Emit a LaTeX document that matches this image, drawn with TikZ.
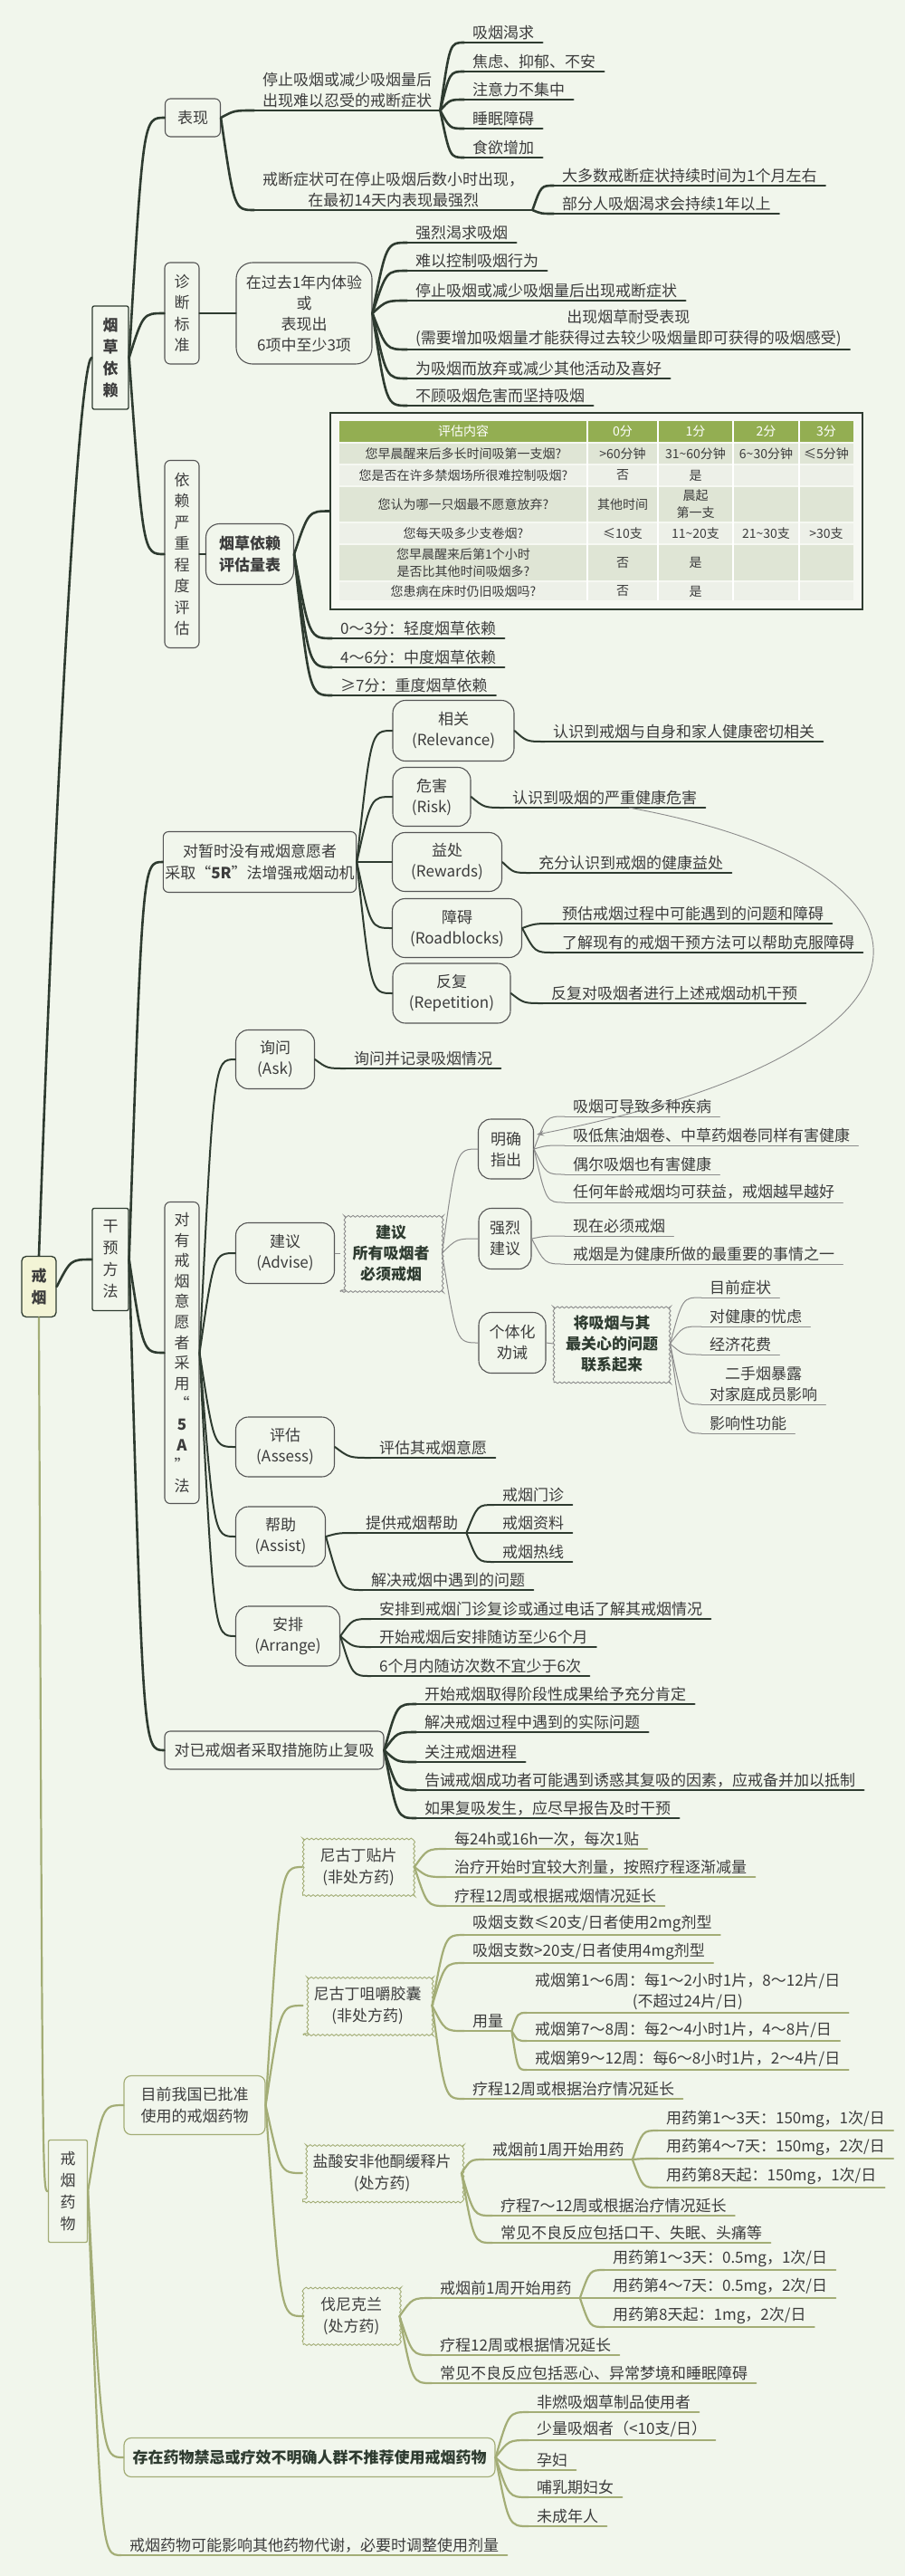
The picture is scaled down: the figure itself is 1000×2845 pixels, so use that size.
\documentclass[tikz,border=0pt]{standalone}
\usepackage{fontspec}
\setmainfont{Noto Sans CJK SC}
\usetikzlibrary{calc,decorations.pathmorphing,arrows.meta}
\definecolor{bg}{HTML}{F1F6EC}
\definecolor{dk}{HTML}{2E3B30}
\definecolor{ol}{HTML}{A3AD76}
\definecolor{gr}{HTML}{8C8C8C}
\definecolor{bx}{HTML}{555555}
\definecolor{tx}{HTML}{3C3C3C}
\definecolor{hd}{HTML}{93AE52}
\definecolor{ra}{HTML}{DFE5D5}
\definecolor{rb}{HTML}{EDF0E8}
\definecolor{tbf}{HTML}{F6F8F2}
\definecolor{rootf}{HTML}{F3F4D6}
\newcommand\fsz{\fontsize{17}{23}\selectfont}
\newcommand\tbz{\fontsize{14}{19}\selectfont}
\newcommand\leafn[4][dkl]{\node[lfnode] (#2) at (#3) {#4};\draw[#1] (#2.south west) -- (#2.south east);}
\newcommand\conn[3][dkl]{\draw[#1] let \p1=(#2), \p2=(#3) in (\p1) .. controls ({\x1+0.4*(\x2-\x1)},\y2) .. (\p2);}
\tikzset{
  dkl/.style={draw=dk, line width=2.6pt, line cap=round},
  mdl/.style={draw=dk, line width=2pt, line cap=round},
  thl/.style={draw=gr, line width=1pt, line cap=round},
  oll/.style={draw=ol, line width=2.2pt, line cap=round},
  box/.style={draw=bx, line width=1.1pt, rounded corners=6pt, fill=bg, align=center, inner sep=2pt, text=tx, font=\fsz},
  vbox/.style={box, font=\fontsize{17}{23.5}\selectfont},
  rbox/.style={box, rounded corners=14pt},
  olbox/.style={box, draw=ol, line width=1.2pt},
  cld/.style={draw=gr, line width=0.9pt, fill=bg, align=center, decorate, decoration={snake, amplitude=0.9pt, segment length=5pt}, font=\fontsize{17}{23}\selectfont\bfseries, text=dk},
  olcl/.style={cld, draw=ol, font=\fontsize{17}{24}\selectfont, text=tx},
  lfnode/.style={anchor=south west, inner xsep=9pt, inner ysep=3pt, align=center, font=\fsz, text=tx},
  tcell/.style={font=\tbz, align=center, inner sep=0pt, text=tx}
}
\begin{document}
\begin{tikzpicture}[x=1pt,y=-1pt]
\fill[bg] (0,0) rectangle (1000,2845);
\useasboundingbox (0,0) rectangle (1000,2845);

% root and level 1
\node[box, draw=dk, line width=1.3pt, fill=rootf, rounded corners=5pt, minimum width=38pt, minimum height=67pt, font=\fontsize{17}{24}\selectfont\bfseries] (root) at (43,1421) {戒\\烟};
\node[box, draw=dk, line width=1.3pt, rounded corners=2pt, minimum width=40pt, minimum height=114pt, font=\fontsize{17}{24}\selectfont\bfseries] (yc) at (122,395) {烟\\草\\依\\赖};
\node[box, draw=dk, line width=1.3pt, rounded corners=2pt, minimum width=40pt, minimum height=113pt, font=\fontsize{17}{24}\selectfont] (gy) at (122,1391) {干\\预\\方\\法};
\node[box, draw=ol, line width=1.3pt, rounded corners=2pt, minimum width=43pt, minimum height=113pt, font=\fontsize{17}{24}\selectfont] (yw) at (75,2420) {戒\\烟\\药\\物};
\draw[dkl] (root.north) .. controls (60,900) and (86,400) .. (yc.west);
\conn{root.east}{gy.west}
\conn[oll]{root.south}{yw.west}

% ===== 烟草依赖 =====
\node[box, minimum width=61pt, minimum height=42pt] (bx) at (213,130) {表现};
\node[vbox, minimum width=38pt, minimum height=112pt] (zd) at (201,346) {诊\\断\\标\\准};
\node[box, rounded corners=18pt, minimum width=150pt, minimum height=112pt] (zdb) at (336,346) {在过去1年内体验\\或\\表现出\\6项中至少3项};
\node[vbox, minimum width=38pt, minimum height=207pt] (yl) at (201,612) {依\\赖\\严\\重\\程\\度\\评\\估};
\node[box, rounded corners=15pt, minimum width=97pt, minimum height=67pt, font=\fontsize{17}{24}\selectfont\bfseries] (lb) at (276,612) {烟草依赖\\评估量表};
\conn{yc.east}{bx.west}
\conn{yc.east}{zd.west}
\conn{yc.east}{yl.west}
\draw[dkl] (zd.east) -- (zdb.west);
\draw[dkl] (yl.east) -- (lb.west);

\leafn{b1}{281,122}{停止吸烟或减少吸烟量后\\出现难以忍受的戒断症状}
\conn{bx.east}{b1.south west}
\leafn{b11}{513,47}{吸烟渴求}
\leafn{b12}{513,79}{焦虑、抑郁、不安}
\leafn{b13}{513,110}{注意力不集中}
\leafn{b14}{513,142}{睡眠障碍}
\leafn{b15}{513,174}{食欲增加}
\foreach \q in {b11,b12,b13,b14,b15} {\conn{b1.south east}{\q.south west}}
\leafn{b2}{281,232}{戒断症状可在停止吸烟后数小时出现，\\在最初14天内表现最强烈}
\conn{bx.east}{b2.south west}
\leafn{b21}{612,205}{大多数戒断症状持续时间为1个月左右}
\leafn{b22}{612,236}{部分人吸烟渴求会持续1年以上}
\conn{b2.south east}{b21.south west}
\conn{b2.south east}{b22.south west}

\leafn{z1}{450,268}{强烈渴求吸烟}
\leafn{z2}{450,299}{难以控制吸烟行为}
\leafn{z3}{450,332}{停止吸烟或减少吸烟量后出现戒断症状}
\leafn{z4}{450,386}{出现烟草耐受表现\\(需要增加吸烟量才能获得过去较少吸烟量即可获得的吸烟感受)}
\leafn{z5}{450,418}{为吸烟而放弃或减少其他活动及喜好}
\leafn{z6}{450,448}{不顾吸烟危害而坚持吸烟}
\foreach \q in {z1,z2,z3,z4,z5,z6} {\conn{zdb.east}{\q.south west}}

% table
\node[draw=dk, line width=1.2pt, fill=tbf, minimum width=588pt, minimum height=217pt, inner sep=0pt] (tb) at (659,564.5) {};
\fill[hd] (375,465) rectangle (943,488);
\foreach \ya/\yb/\cc in {490/512/ra, 514/536/rb, 538/576/ra, 578/600/rb, 602/641/ra, 643/663/rb} {\fill[\cc] (375,\ya) rectangle (943,\yb);}
\foreach \xx in {649,727,810,883} {\draw[white, line width=1.5pt] (\xx,465) -- (\xx,663);}
\node[tcell, text=white] (h0) at (512,476.5) {评估内容};
\node[tcell, text=white] (h1) at (688,476.5) {0分};
\node[tcell, text=white] (h2) at (768.5,476.5) {1分};
\node[tcell, text=white] (h3) at (846.5,476.5) {2分};
\node[tcell, text=white] (h4) at (913,476.5) {3分};
\node[tcell] (r1a) at (512,501) {您早晨醒来后多长时间吸第一支烟?};
\node[tcell] (r1b) at (688,501) {>60分钟};
\node[tcell] (r1c) at (768.5,501) {31\textasciitilde60分钟};
\node[tcell] (r1d) at (846.5,501) {6\textasciitilde30分钟};
\node[tcell] (r1e) at (913,501) {≤5分钟};
\node[tcell] (r2a) at (512,525) {您是否在许多禁烟场所很难控制吸烟?};
\node[tcell] (r2b) at (688,525) {否};
\node[tcell] (r2c) at (768.5,525) {是};
\node[tcell] (r3a) at (512,557) {您认为哪一只烟最不愿意放弃?};
\node[tcell] (r3b) at (688,557) {其他时间};
\node[tcell] (r3c) at (768.5,557) {晨起\\第一支};
\node[tcell] (r4a) at (512,589) {您每天吸多少支卷烟?};
\node[tcell] (r4b) at (688,589) {≤10支};
\node[tcell] (r4c) at (768.5,589) {11\textasciitilde20支};
\node[tcell] (r4d) at (846.5,589) {21\textasciitilde30支};
\node[tcell] (r4e) at (913,589) {>30支};
\node[tcell] (r5a) at (512,621.5) {您早晨醒来后第1个小时\\是否比其他时间吸烟多?};
\node[tcell] (r5b) at (688,621.5) {否};
\node[tcell] (r5c) at (768.5,621.5) {是};
\node[tcell] (r6a) at (512,653) {您患病在床时仍旧吸烟吗?};
\node[tcell] (r6b) at (688,653) {否};
\node[tcell] (r6c) at (768.5,653) {是};
\conn{lb.east}{tb.west}
\leafn{s1}{367,705}{0～3分：轻度烟草依赖}
\leafn{s2}{367,737}{4～6分：中度烟草依赖}
\leafn{s3}{367,768}{≥7分：重度烟草依赖}
\foreach \q in {s1,s2,s3} {\conn{lb.east}{\q.south west}}

% ===== 干预方法 =====
\node[box, minimum width=210pt, minimum height=67pt, font=\fontsize{17}{24}\selectfont] (r5) at (287,952) {对暂时没有戒烟意愿者\\采取“\textbf{5R}”法增强戒烟动机};
\node[vbox, minimum width=38pt, minimum height=333pt, font=\fontsize{17}{22.6}\selectfont] (a5) at (201,1494) {对\\有\\戒\\烟\\意\\愿\\者\\采\\用\\“\\\textbf{5}\\\textbf{A}\\”\\法};
\node[box, minimum width=242pt, minimum height=42pt] (fx) at (303,1933) {对已戒烟者采取措施防止复吸};
\conn{gy.east}{r5.west}
\conn{gy.east}{a5.west}
\conn{gy.east}{fx.west}

\node[rbox, minimum width=134pt, minimum height=67pt] (rel) at (501,807) {相关\\(Relevance)};
\node[rbox, minimum width=86pt, minimum height=65pt] (risk) at (477,880) {危害\\(Risk)};
\node[rbox, minimum width=121pt, minimum height=65pt] (rew) at (494,952) {益处\\(Rewards)};
\node[rbox, minimum width=143pt, minimum height=65pt] (road) at (505,1025) {障碍\\(Roadblocks)};
\node[rbox, minimum width=130pt, minimum height=66pt] (rep) at (499,1097) {反复\\(Repetition)};
\foreach \q in {rel,risk,rew,road,rep} {\conn[mdl]{r5.east}{\q.west}}
\leafn[mdl]{rel1}{602,819}{认识到戒烟与自身和家人健康密切相关}
\conn[mdl]{rel.east}{rel1.south west}
\leafn[mdl]{risk1}{557,892}{认识到吸烟的严重健康危害}
\conn[mdl]{risk.east}{risk1.south west}
\leafn[mdl]{rew1}{586,964}{充分认识到戒烟的健康益处}
\conn[mdl]{rew.east}{rew1.south west}
\leafn[mdl]{road1}{612,1020}{预估戒烟过程中可能遇到的问题和障碍}
\leafn[mdl]{road2}{612,1052}{了解现有的戒烟干预方法可以帮助克服障碍}
\conn[mdl]{road.east}{road1.south west}
\conn[mdl]{road.east}{road2.south west}
\leafn[mdl]{rep1}{600,1108}{反复对吸烟者进行上述戒烟动机干预}
\conn[mdl]{rep.east}{rep1.south west}

\node[rbox, minimum width=87pt, minimum height=65pt] (ask) at (304,1170) {询问\\(Ask)};
\node[rbox, minimum width=109pt, minimum height=67pt] (adv) at (315,1384) {建议\\(Advise)};
\node[rbox, minimum width=109pt, minimum height=66pt] (ass) at (315,1598) {评估\\(Assess)};
\node[rbox, minimum width=99pt, minimum height=66pt] (asi) at (310,1697) {帮助\\(Assist)};
\node[rbox, minimum width=115pt, minimum height=66pt] (arr) at (318,1807) {安排\\(Arrange)};
\foreach \q in {ask,adv,ass,asi,arr} {\conn[mdl]{a5.east}{\q.west}}
\leafn[mdl]{ask1}{382,1180}{询问并记录吸烟情况}
\conn[mdl]{ask.east}{ask1.south west}

\node[cld, minimum width=112pt, minimum height=85pt] (cl1) at (432,1384) {建议\\所有吸烟者\\必须戒烟};
\draw[thl] (adv.east) -- (cl1.west);
\node[rbox, minimum width=61pt, minimum height=66pt] (mq) at (559,1269) {明确\\指出};
\node[rbox, minimum width=58pt, minimum height=67pt] (ql) at (558,1368) {强烈\\建议};
\node[rbox, minimum width=74pt, minimum height=67pt] (gt) at (566,1483) {个体化\\劝诫};
\foreach \q in {mq,ql,gt} {\conn[thl]{cl1.east}{\q.west}}
\leafn[thl]{mq1}{624,1233}{吸烟可导致多种疾病}
\leafn[thl]{mq2}{624,1265}{吸低焦油烟卷、中草药烟卷同样有害健康}
\leafn[thl]{mq3}{624,1297}{偶尔吸烟也有害健康}
\leafn[thl]{mq4}{624,1328}{任何年龄戒烟均可获益，戒烟越早越好}
\foreach \q in {mq1,mq2,mq3,mq4} {\conn[thl]{mq.east}{\q.south west}}
\leafn[thl]{ql1}{624,1365}{现在必须戒烟}
\leafn[thl]{ql2}{624,1396}{戒烟是为健康所做的最重要的事情之一}
\foreach \q in {ql1,ql2} {\conn[thl]{ql.east}{\q.south west}}
\node[cld, minimum width=128pt, minimum height=86pt] (cl2) at (676,1484) {将吸烟与其\\最关心的问题\\联系起来};
\draw[thl] (gt.east) -- (cl2.west);
\leafn[thl]{g1}{775,1433}{目前症状}
\leafn[thl]{g2}{775,1465}{对健康的忧虑}
\leafn[thl]{g3}{775,1496}{经济花费}
\leafn[thl]{g4}{775,1551}{二手烟暴露\\对家庭成员影响}
\leafn[thl]{g5}{775,1583}{影响性功能}
\foreach \q in {g1,g2,g3,g4,g5} {\conn[thl]{cl2.east}{\q.south west}}
\draw[gr, line width=0.9pt, -{Stealth[length=8pt,width=6pt]}] ($(risk1.south west)!0.62!(risk1.south east)$) .. controls (1070,960) and (1070,1160) .. ($(mq.east)+(3,-16)$);

\leafn[mdl]{ass1}{410,1610}{评估其戒烟意愿}
\conn[mdl]{ass.east}{ass1.south west}
\leafn[mdl]{asi1}{395,1693}{提供戒烟帮助}
\leafn[mdl]{asi2}{401,1756}{解决戒烟中遇到的问题}
\conn[mdl]{asi.east}{asi1.south west}
\conn[mdl]{asi.east}{asi2.south west}
\leafn[mdl]{asi11}{546,1662}{戒烟门诊}
\leafn[mdl]{asi12}{546,1693}{戒烟资料}
\leafn[mdl]{asi13}{546,1725}{戒烟热线}
\foreach \q in {asi11,asi12,asi13} {\conn[mdl]{asi1.south east}{\q.south west}}
\leafn[mdl]{arr1}{410,1788}{安排到戒烟门诊复诊或通过电话了解其戒烟情况}
\leafn[mdl]{arr2}{410,1819}{开始戒烟后安排随访至少6个月}
\leafn[mdl]{arr3}{410,1851}{6个月内随访次数不宜少于6次}
\foreach \q in {arr1,arr2,arr3} {\conn[mdl]{arr.east}{\q.south west}}

\leafn{fx1}{460,1882}{开始戒烟取得阶段性成果给予充分肯定}
\leafn{fx2}{460,1913}{解决戒烟过程中遇到的实际问题}
\leafn{fx3}{460,1946}{关注戒烟进程}
\leafn{fx4}{460,1977}{告诫戒烟成功者可能遇到诱惑其复吸的因素，应戒备并加以抵制}
\leafn{fx5}{460,2008}{如果复吸发生，应尽早报告及时干预}
\foreach \q in {fx1,fx2,fx3,fx4,fx5} {\conn{fx.east}{\q.south west}}

% ===== 戒烟药物 =====
\node[olbox, rounded corners=8pt, minimum width=156pt, minimum height=65pt, font=\fontsize{17}{24}\selectfont] (pz) at (215,2325) {目前我国已批准\\使用的戒烟药物};
\node[olbox, rounded corners=8pt, minimum width=410pt, minimum height=43pt, font=\fsz\bfseries, text=dk] (jj) at (342,2714) {存在药物禁忌或疗效不明确人群不推荐使用戒烟药物};
\leafn[oll]{yx}{134,2822}{戒烟药物可能影响其他药物代谢，必要时调整使用剂量}
\conn[oll]{yw.east}{pz.west}
\conn[oll]{yw.east}{jj.west}
\conn[oll]{yw.east}{yx.south west}

\node[olcl, minimum width=123pt, minimum height=63pt] (tp) at (396,2062) {尼古丁贴片\\(非处方药)};
\node[olcl, minimum width=142pt, minimum height=65pt] (jn) at (406,2215) {尼古丁咀嚼胶囊\\(非处方药)};
\node[olcl, minimum width=175pt, minimum height=64pt] (af) at (422,2400) {盐酸安非他酮缓释片\\(处方药)};
\node[olcl, minimum width=106pt, minimum height=63pt] (fn) at (388,2558) {伐尼克兰\\(处方药)};
\foreach \q in {tp,jn,af,fn} {\conn[oll]{pz.east}{\q.west}}

\leafn[oll]{tp1}{493,2042}{每24h或16h一次，每次1贴}
\leafn[oll]{tp2}{493,2073}{治疗开始时宜较大剂量，按照疗程逐渐减量}
\leafn[oll]{tp3}{493,2105}{疗程12周或根据戒烟情况延长}
\foreach \q in {tp1,tp2,tp3} {\conn[oll]{tp.east}{\q.south west}}

\leafn[oll]{jn1}{513,2137}{吸烟支数≤20支/日者使用2mg剂型}
\leafn[oll]{jn2}{513,2168}{吸烟支数>20支/日者使用4mg剂型}
\leafn[oll]{jn3}{513,2243}{用量}
\leafn[oll]{jn4}{513,2318}{疗程12周或根据治疗情况延长}
\foreach \q in {jn1,jn2,jn3,jn4} {\conn[oll]{jn.east}{\q.south west}}
\leafn[oll]{jn31}{582,2223}{戒烟第1～6周：每1～2小时1片，8～12片/日\\(不超过24片/日)}
\leafn[oll]{jn32}{582,2254}{戒烟第7～8周：每2～4小时1片，4～8片/日}
\leafn[oll]{jn33}{582,2286}{戒烟第9～12周：每6～8小时1片，2～4片/日}
\foreach \q in {jn31,jn32,jn33} {\conn[oll]{jn3.south east}{\q.south west}}

\leafn[oll]{af1}{535,2385}{戒烟前1周开始用药}
\leafn[oll]{af2}{544,2447}{疗程7～12周或根据治疗情况延长}
\leafn[oll]{af3}{544,2477}{常见不良反应包括口干、失眠、头痛等}
\foreach \q in {af1,af2,af3} {\conn[oll]{af.east}{\q.south west}}
\leafn[oll]{af11}{727,2353}{用药第1～3天：150mg，1次/日}
\leafn[oll]{af12}{727,2384}{用药第4～7天：150mg，2次/日}
\leafn[oll]{af13}{727,2416}{用药第8天起：150mg，1次/日}
\foreach \q in {af11,af12,af13} {\conn[oll]{af1.south east}{\q.south west}}

\leafn[oll]{fn1}{477,2538}{戒烟前1周开始用药}
\leafn[oll]{fn2}{477,2601}{疗程12周或根据情况延长}
\leafn[oll]{fn3}{477,2632}{常见不良反应包括恶心、异常梦境和睡眠障碍}
\foreach \q in {fn1,fn2,fn3} {\conn[oll]{fn.east}{\q.south west}}
\leafn[oll]{fn11}{668,2507}{用药第1～3天：0.5mg，1次/日}
\leafn[oll]{fn12}{668,2538}{用药第4～7天：0.5mg，2次/日}
\leafn[oll]{fn13}{668,2570}{用药第8天起：1mg，2次/日}
\foreach \q in {fn11,fn12,fn13} {\conn[oll]{fn1.south east}{\q.south west}}

\leafn[oll]{jj1}{584,2664}{非燃吸烟草制品使用者}
\leafn[oll]{jj2}{584,2695}{少量吸烟者（<10支/日）}
\leafn[oll]{jj3}{584,2728}{孕妇}
\leafn[oll]{jj4}{584,2758}{哺乳期妇女}
\leafn[oll]{jj5}{584,2790}{未成年人}
\foreach \q in {jj1,jj2,jj3,jj4,jj5} {\conn[oll]{jj.east}{\q.south west}}
\end{tikzpicture}
\end{document}
